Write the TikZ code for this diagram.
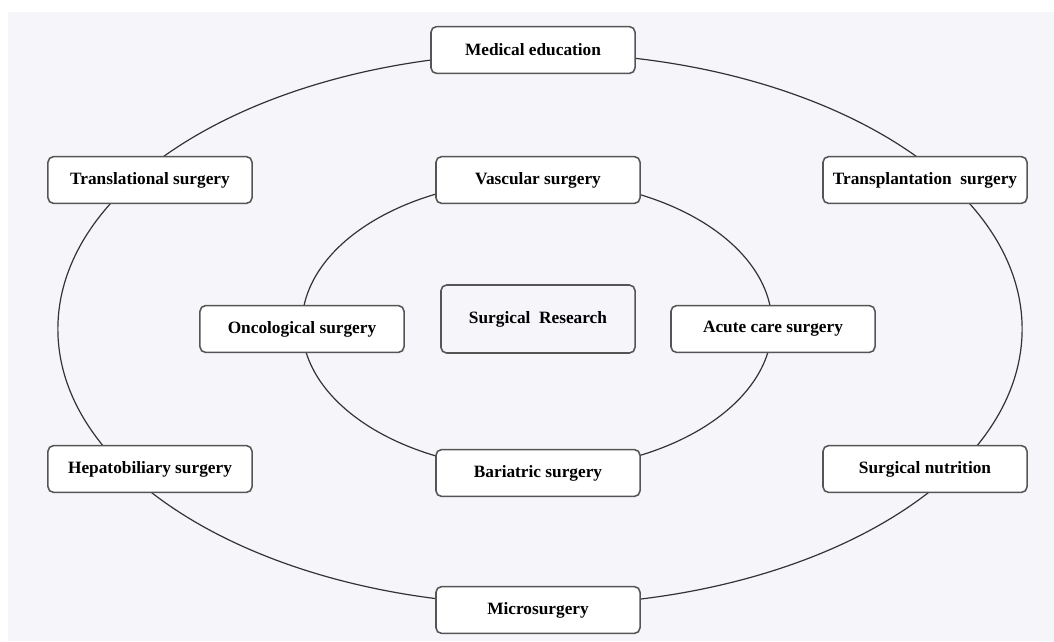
\documentclass[tikz,border=0pt]{standalone}
\usepackage{fontspec}
\setmainfont{Liberation Serif}
\usepackage{tikz}
\usetikzlibrary{positioning}

\definecolor{bgcol}{RGB}{245,245,250}
\definecolor{edgecol}{RGB}{85,85,85}

\tikzset{
	field/.style={draw=edgecol, line width=1.1pt, rounded corners=4pt, fill=white,
		minimum width=5.1cm, minimum height=1.17cm, inner sep=2pt,
		font=\fontsize{12.3}{14}\selectfont\bfseries},
	hub/.style={field, fill=bgcol, minimum width=4.85cm, minimum height=1.7cm},
	orbit/.style={draw=black!80, line width=0.85pt}
}

\begin{document}
\begin{tikzpicture}[x=0.025cm, y=-0.025cm]
	% background
	\fill[white] (0,0) rectangle (1054,641);
	\fill[bgcol] (8,12) rectangle (1054,641);
	\useasboundingbox (0,0) rectangle (1054,641);

	% rings
	\draw[orbit] (540,329) ellipse [x radius=12.05cm, y radius=6.9cm];
	\draw[orbit] (537,325) ellipse [x radius=5.875cm, y radius=3.625cm];

	% outer ring
	\node[field] (meded) at (533,50) {Medical education};
	\node[field] (transl) at (150,180) {Translational surgery};
	\node[field] (transp) at (925,180) {Transplantation\ \ surgery};
	\node[field] (hepato) at (150,469) {Hepatobiliary surgery};
	\node[field] (nutri) at (925,469) {Surgical nutrition};
	\node[field] (micro) at (538,610) {Microsurgery};

	% inner ring
	\node[field] (vasc) at (538,180) {Vascular surgery};
	\node[field] (onco) at (302,329) {Oncological surgery};
	\node[field] (acute) at (773,329) {Acute care surgery};
	\node[field] (bari) at (538,473) {Bariatric surgery};

	% centre
	\node[hub] (research) at (538,319) {Surgical\ \ Research};
\end{tikzpicture}
\end{document}
